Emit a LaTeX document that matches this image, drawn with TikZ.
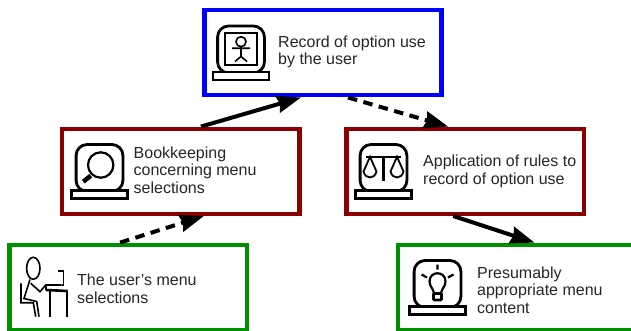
\documentclass[tikz,border=0pt]{standalone}
\usepackage{fontspec}
\setmainfont{Liberation Sans}
\usetikzlibrary{arrows.meta}
\definecolor{boxblue}{RGB}{0,0,255}
\definecolor{boxred}{RGB}{139,0,0}
\definecolor{boxgreen}{RGB}{0,145,0}
\tikzset{
  stepbox/.style={draw=#1,line width=4.4pt,fill=white,minimum width=237.3pt,minimum height=85pt,inner sep=0pt},
  boxtext/.style={anchor=west,align=left,inner sep=0pt,text=black!85,font=\fontsize{16}{17.6}\selectfont},
  flow/.style={-{Stealth[length=24pt,width=17pt,inset=2pt]},line width=4pt,black},
  flowdash/.style={flow,dash pattern=on 9.5pt off 6.5pt},
  glyph/.style={line width=2.8pt,black},
  thin glyph/.style={line width=1.6pt,black},
  monitor/.pic={
    \draw[glyph,rounded corners=11pt] (-23.4,-3) rectangle (23.4,-50);
    \draw[glyph,fill=white] (-28,-4) rectangle (28,4);
  }
}
\begin{document}
\begin{tikzpicture}[x=1pt,y=-1pt]
  \useasboundingbox (0,0) rectangle (631,331);

  \node[stepbox=boxblue]  (record)  at (323,52.8)    {};
  \node[stepbox=boxred]   (keeping) at (180.9,171.3) {};
  \node[stepbox=boxred]   (rules)   at (465.2,171.3) {};
  \node[stepbox=boxgreen] (choice)  at (128.1,287.3) {};
  \node[stepbox=boxgreen] (content) at (516.5,287.3) {};

  \node[boxtext] (recordtext)  at (278,51.7)  {Record of option use\\by the user};
  \node[boxtext] (keepingtext) at (133.5,170) {Bookkeeping\\concerning menu\\selections};
  \node[boxtext] (rulestext)   at (423,171.5) {Application of rules to\\record of option use};
  \node[boxtext] (choicetext)  at (77,288.5)  {The user's menu\\selections};
  \node[boxtext] (contenttext) at (477,290)   {Presumably\\appropriate menu\\content};

  \draw[flow]     ([xshift=20pt]keeping.north) -- ([xshift=-22pt]record.south);
  \draw[flowdash] ([xshift=25pt]record.south)  -- ([xshift=-17pt]rules.north);
  \draw[flowdash] ([xshift=-8pt]choice.north)  -- ([xshift=23pt]keeping.south);
  \draw[flow]     ([xshift=-12pt]rules.south)  -- ([xshift=18pt]content.north);

  % person in frame
  \pic at (241,76) {monitor};
  \begin{scope}[shift={(241,76)}]
    \draw[glyph] (-16,-43) rectangle (16,-11);
    \draw[thin glyph] (0,-34.3) circle (5);
    \draw[thin glyph] (0,-29.3) -- (0,-19.5) (-9,-27.7) -- (9,-27.7) (-6,-14.5) -- (0,-19.5) -- (6,-14.5);
  \end{scope}

  % magnifier
  \pic at (99.5,194.5) {monitor};
  \begin{scope}[shift={(99.5,194.5)}]
    \draw[line width=2.2pt] (1.2,-29.5) circle (12.7);
    \draw[line width=4.5pt] (-8.8,-18.8) -- (-16.2,-12.8);
  \end{scope}

  % scales
  \pic at (383.5,194.5) {monitor};
  \begin{scope}[shift={(383.5,194.5)}]
    \draw[line width=2.2pt] (0,-38.7) -- (0,-13.3) (-17.5,-37.7) -- (17.5,-37.7);
    \foreach \side in {-1,1} {
      \draw[line width=1.8pt] (\side*13.5,-37.7) -- (\side*20,-23) .. controls (\side*18,-15) and (\side*9,-15) .. (\side*7,-23) -- cycle;
    }
  \end{scope}

  % bulb
  \pic at (437.5,310.5) {monitor};
  \begin{scope}[shift={(437.5,310.5)}]
    \draw[line width=2.2pt] (-3.5,-17) .. controls (-4,-22) and (-8,-24) .. (-8,-29) .. controls (-8,-40) and (8,-40) .. (8,-29) .. controls (8,-24) and (4,-22) .. (3.5,-17);
    \draw[line width=2.6pt,rounded corners=1pt] (-4,-17) rectangle (4,-10.5);
    \draw[line width=2.2pt] (0,-46) -- (0,-41) (-16,-36) -- (-10.5,-33) (16,-36) -- (10.5,-33);
  \end{scope}

  % person at desk
  \draw[thin glyph] (33.3,268.3) ellipse (6.7 and 11);
  \draw[thin glyph] (30,279.5) -- (24,298.5) -- (36.7,301.5) -- (39,316.7);
  \draw[thin glyph] (21,283.3) -- (21,302.7) -- (33.3,302.7) -- (35.7,316.7);
  \draw[thin glyph] (30.7,283.3) -- (40,291.7) -- (45.7,285) -- (61.7,285);
  \draw[thin glyph] (58.3,270.7) -- (63.3,270.7) -- (63.3,285) -- (61.7,285);
  \draw[line width=2.6pt] (45.7,290) -- (67.7,291);
  \draw[thin glyph] (45.7,285) -- (45.7,290) (50,291) -- (50,316.7) (66.7,291) -- (66.7,316.7);
\end{tikzpicture}
\end{document}
